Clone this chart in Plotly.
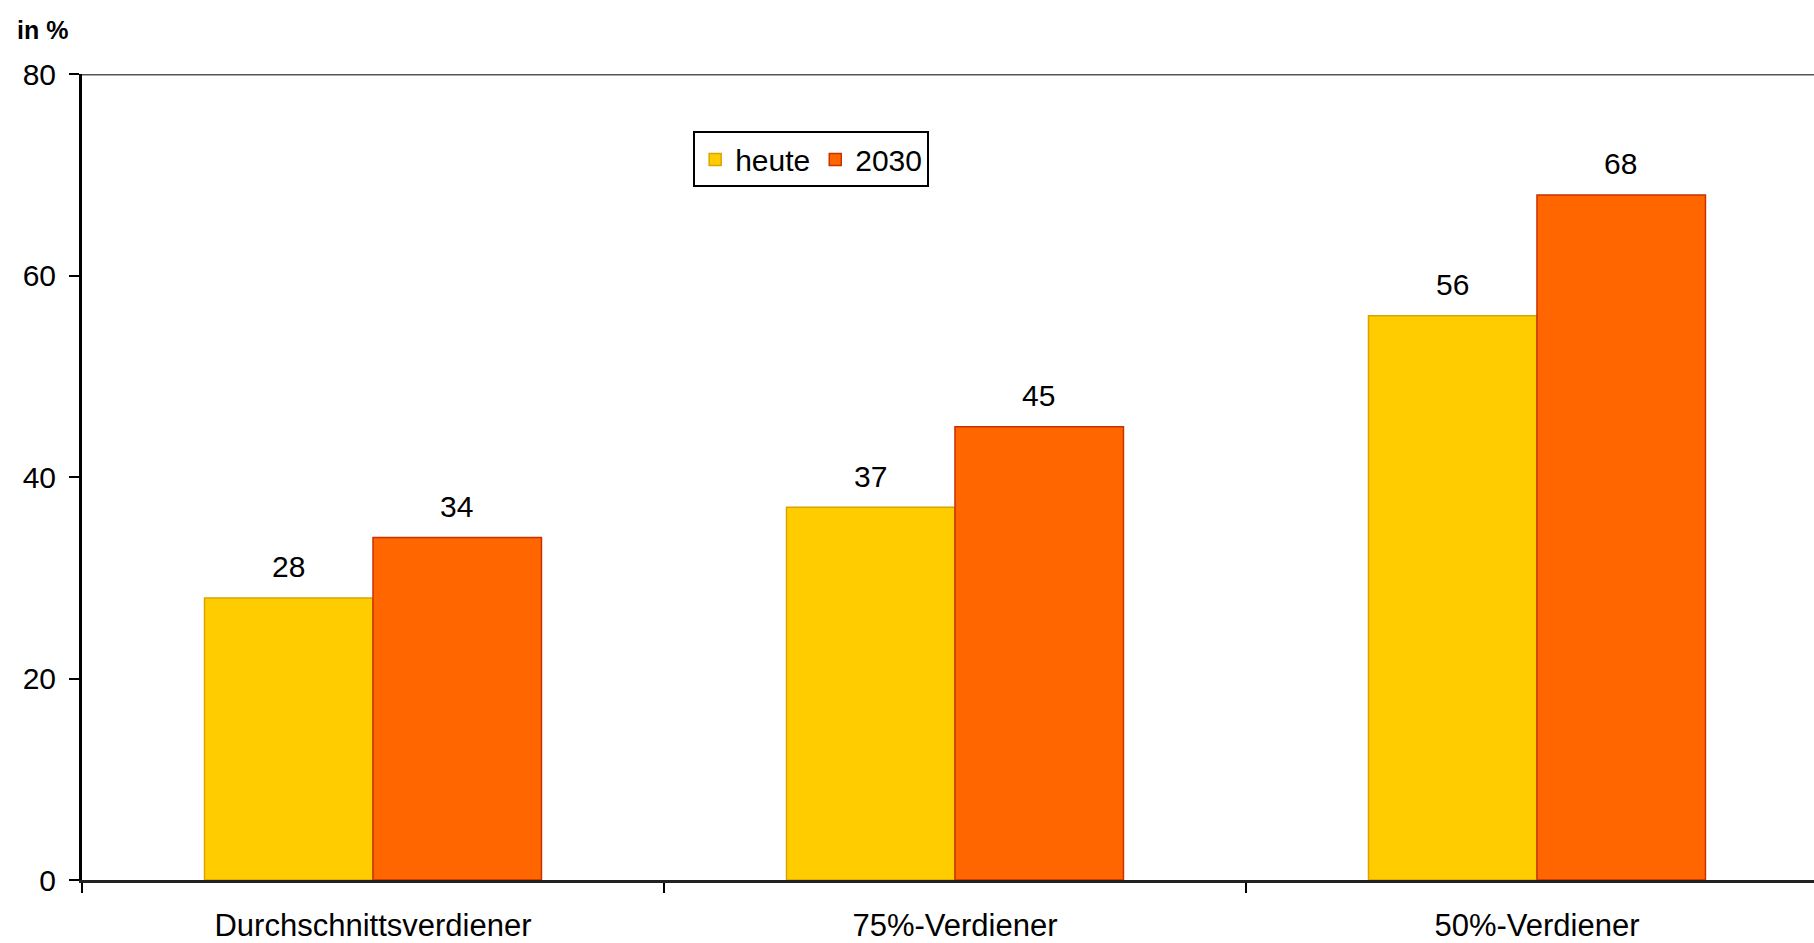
import plotly.graph_objects as go

categories = ["Durchschnittsverdiener", "75%-Verdiener", "50%-Verdiener"]
heute = [28, 37, 56]
y2030 = [34, 45, 68]
series_names = ["heute", "2030"]
y_ticks = [0, 20, 40, 60, 80]

FONT = "Liberation Sans, Arial, sans-serif"

fig = go.Figure()
fig.add_trace(go.Bar(x=categories, y=heute, name=series_names[0],
                     marker=dict(color="#FFCC00", line=dict(color="#D9A400", width=1.5))))
fig.add_trace(go.Bar(x=categories, y=y2030, name=series_names[1],
                     marker=dict(color="#FF6600", line=dict(color="#C83200", width=1.5))))

for i, cat in enumerate(categories):
    fig.add_annotation(x=cat, y=heute[i], xref="x", yref="y", text=str(heute[i]),
                       showarrow=False, xshift=-84, yshift=31,
                       font=dict(size=30, color="#000000", family=FONT))
    fig.add_annotation(x=cat, y=y2030[i], xref="x", yref="y", text=str(y2030[i]),
                       showarrow=False, xshift=84, yshift=31,
                       font=dict(size=30, color="#000000", family=FONT))

fig.add_annotation(x=0, y=1, xref="paper", yref="paper", xanchor="right", yanchor="bottom",
                   xshift=-12, yshift=28, text="<b>in %</b>", showarrow=False,
                   font=dict(size=25, color="#000000", family=FONT))

# top border line of the plot area
fig.add_shape(type="line", xref="paper", yref="y", x0=0, x1=1, y0=y_ticks[-1], y1=y_ticks[-1],
              line=dict(color="#555555", width=3))

fig.update_layout(
    width=1814, height=943,
    margin=dict(l=82, r=0, t=74, b=60),
    paper_bgcolor="white", plot_bgcolor="white",
    barmode="group", bargap=0.421, bargroupgap=0,
    font=dict(family=FONT, size=30, color="#000000"),
    legend=dict(orientation="h", x=0.421, y=0.894, xanchor="center", yanchor="middle",
                bordercolor="#000000", borderwidth=2, bgcolor="white",
                font=dict(size=30, family=FONT), itemwidth=30, tracegroupgap=0),
    showlegend=True,
)
fig.update_xaxes(
    range=[-0.5, 2.476], showline=True, linecolor="#222222", linewidth=3,
    ticks="outside", tickson="boundaries", ticklen=10, tickwidth=2, tickcolor="#000000",
    tickfont=dict(size=31, family=FONT), showgrid=False, ticklabelstandoff=16,
)
fig.update_yaxes(
    range=[0, 80], tickvals=y_ticks, showline=True, linecolor="#000000", linewidth=3,
    ticks="outside", ticklen=10, tickwidth=2, tickcolor="#000000",
    tickfont=dict(size=30, family=FONT), showgrid=False, zeroline=False, ticklabelstandoff=7,
)

fig.write_html("out.html")
